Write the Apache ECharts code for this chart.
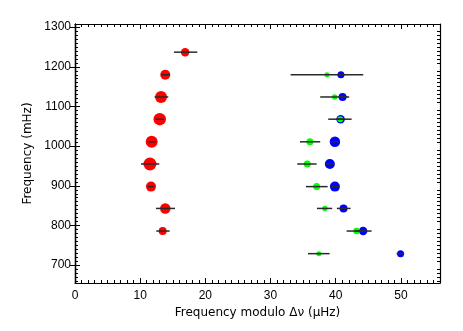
<!DOCTYPE html>
<html>
<head>
<meta charset="utf-8">
<script src="https://cdn.jsdelivr.net/npm/echarts@6/dist/echarts.min.js"></script>
<style>html,body{margin:0;padding:0;background:#fff;}#c{width:463px;height:331px;}</style>
</head>
<body>
<div id="c"></div>
<script>
// ---- data ----
var freqRed   = [1237, 1180, 1124, 1068, 1011, 955, 898, 843, 786];
var redX      = [16.9, 13.85, 13.2, 13.0, 11.76, 11.5, 11.66, 13.85, 13.45];
var redLo     = [15.18, 13.24, 12.22, 12.32, 11.15, 10.12, 11.15, 12.42, 12.47];
var redHi     = [18.76, 14.57, 14.31, 13.65, 12.47, 12.93, 12.16, 15.34, 14.52];
var redSize   = [8.5, 10, 12, 12.5, 12, 13, 10, 10.5, 8];

var freqBG    = [1180, 1124, 1068, 1011, 955, 898, 843, 786, 729];
var blueX     = [40.8, 41.05, 40.75, 39.88, 39.1, 39.88, 41.2, 44.2, 49.95];
var blueLo    = [40.2, 40.44, 40.05, 39.26, 38.45, 39.2, 40.18, 42.94, 49.34];
var blueHi    = [41.4, 41.76, 41.45, 40.64, 39.77, 40.5, 42.28, 45.5, 50.5];
var blueSize  = [7, 8, 8.5, 10.5, 10, 10, 8, 8.5, 7];

var greenX    = [38.65, 39.83, 40.7, 36.04, 35.63, 37.07, 38.34, 43.2, 37.42];
var greenLo   = [33.08, 37.62, 38.85, 34.51, 34.1, 35.43, 37.12, 41.67, 35.74];
var greenHi   = [44.22, 42.07, 42.44, 37.62, 37.07, 38.76, 39.46, 44.63, 39.06];
var greenSize = [5, 5.5, 6, 7, 7, 7, 5.5, 6.5, 5];

var yMajorTicks = [700, 800, 900, 1000, 1100, 1200, 1300];
var xMajorTicks = [0, 10, 20, 30, 40, 50];
var xTickInterval = 10;
var yMin = 655, yMax = 1308, xMin = 0, xMax = 56;

// minor y ticks every 10
var yMinorTicks = [];
for (var v = 660; v <= 1300; v += 10) { if (v % 100 !== 0) yMinorTicks.push(v); }

function pts(xs, ys) { return xs.map(function (x, i) { return [x, ys[i]]; }); }
function bars(lo, hi, ys) { return lo.map(function (l, i) { return [l, hi[i], ys[i]]; }); }

var labelFont = 'Liberation Sans';
var titleFont = 'DejaVu Sans';
var axisLineStyle = { color: '#000', width: 1.2 };
var gridBox = { left: 75, right: 23, top: 24, bottom: 48 };

function xAx(pos, labels) {
  return {
    type: 'value', gridIndex: 0, position: pos, min: xMin, max: xMax, interval: xTickInterval,
    name: labels ? 'Frequency modulo \u0394\u03bd (\u03bcHz)' : '',
    nameLocation: 'middle', nameGap: 17,
    nameTextStyle: { fontFamily: titleFont, fontSize: 12, color: '#000' },
    axisLine: { show: true, lineStyle: axisLineStyle },
    axisTick: { show: true, inside: true, length: 5, lineStyle: { color: '#000', width: 1 } },
    minorTick: { show: true, splitNumber: 10, length: 3, lineStyle: { color: '#000', width: 1 } },
    axisLabel: { show: labels, customValues: xMajorTicks, fontFamily: labelFont, fontSize: 12, color: '#000', margin: 7,
                 formatter: function (v) { return String(v); } },
    splitLine: { show: false }, minorSplitLine: { show: false }
  };
}
function yAx(grid, pos, major, labels) {
  return {
    type: 'value', gridIndex: grid, position: pos, min: yMin, max: yMax,
    name: labels ? 'Frequency (mHz)' : '',
    nameLocation: 'middle', nameGap: 41,
    nameTextStyle: { fontFamily: titleFont, fontSize: 12, color: '#000' },
    axisLine: { show: true, lineStyle: axisLineStyle },
    axisTick: { show: true, inside: true, length: major ? 5 : 3,
                customValues: major ? yMajorTicks : yMinorTicks,
                lineStyle: { color: '#000', width: 1 } },
    axisLabel: { show: labels, customValues: yMajorTicks, fontFamily: labelFont, fontSize: 12, color: '#000', margin: 4,
                 formatter: function (v) { return String(v); } },
    splitLine: { show: false }
  };
}

function scatter(name, data, color, sizes) {
  return {
    name: name, type: 'scatter', data: data, z: 2,
    symbol: 'circle',
    symbolSize: function (val, p) { return sizes[p.dataIndex]; },
    itemStyle: { color: color, opacity: 1 },
    emphasis: { disabled: true }, silent: true
  };
}
function errbar(data) {
  return {
    type: 'custom', data: data, z: 5, silent: true,
    encode: { x: [0, 1], y: 2 },
    renderItem: function (params, api) {
      var a = api.coord([api.value(0), api.value(2)]);
      var b = api.coord([api.value(1), api.value(2)]);
      return { type: 'line', shape: { x1: a[0], y1: a[1], x2: b[0], y2: b[1] },
               style: { stroke: '#2a2a2a', lineWidth: 1.5 } };
    }
  };
}

var chart = echarts.init(document.getElementById('c'), null, { renderer: 'canvas' });
chart.setOption({
  animation: false,
  backgroundColor: '#fff',
  grid: [gridBox, gridBox],
  xAxis: [xAx('bottom', true), xAx('top', false),
          { type: 'value', gridIndex: 1, min: xMin, max: xMax, show: false }],
  yAxis: [yAx(0, 'left', true, true), yAx(0, 'right', true, false),
          yAx(1, 'left', false, false), yAx(1, 'right', false, false)],
  series: [
    scatter('red', pts(redX, freqRed), '#ff0000', redSize),
    scatter('blue', pts(blueX, freqBG), '#0000ff', blueSize),
    scatter('green', pts(greenX, freqBG), '#00ff00', greenSize),
    errbar(bars(redLo, redHi, freqRed)),
    errbar(bars(blueLo, blueHi, freqBG)),
    errbar(bars(greenLo, greenHi, freqBG))
  ]
});
</script>
</body>
</html>
